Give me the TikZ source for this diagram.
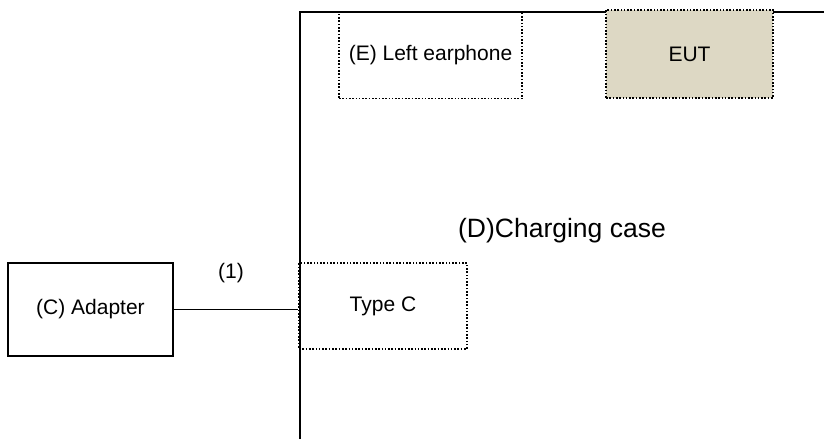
\documentclass[tikz,border=0pt]{standalone}
\usepackage{fontspec}
\setmainfont{Liberation Sans}
\usepackage{tikz}
\usetikzlibrary{positioning}
\definecolor{eutfill}{HTML}{DDD8C4}
\tikzset{
  solidbox/.style={draw, line width=2pt, minimum width=165pt, minimum height=93pt, inner sep=0pt},
  dotbox/.style={draw, line width=1.6pt, dash pattern=on 1.6pt off 1.7pt, inner sep=0pt},
  lbl/.style={font=\fontsize{21}{24}\selectfont}
}

\begin{document}
\begin{tikzpicture}[x=1pt,y=-1pt]
\useasboundingbox (0,0) rectangle (824,439);
% charging case outline (runs off the page)
\coordinate (casetl) at (300,12);
\draw[line width=2.6pt] (300,439) -- (casetl) -- (824,12);
\node[lbl, font=\fontsize{26.5}{30}\selectfont] (case) at (562,231) {(D)Charging case};
% parts inside the case
\node[dotbox, lbl, minimum width=183pt, minimum height=87pt] (ear) at (430.5,55) {(E) Left earphone};
\node[dotbox, lbl, fill=eutfill, minimum width=167pt, minimum height=88pt] (eut) at (689.5,54) {EUT};
\node[dotbox, lbl, minimum width=168pt, minimum height=86pt] (typec) at (383,306) {Type C};
% adapter and cable
\node[solidbox, lbl] (adapter) at (90.5,309.5) {(C) Adapter};
\draw[line width=1.8pt] (adapter.east) -- (typec.west |- adapter.east);
\node[lbl] (cable) at (231,273) {(1)};
\end{tikzpicture}
\end{document}
